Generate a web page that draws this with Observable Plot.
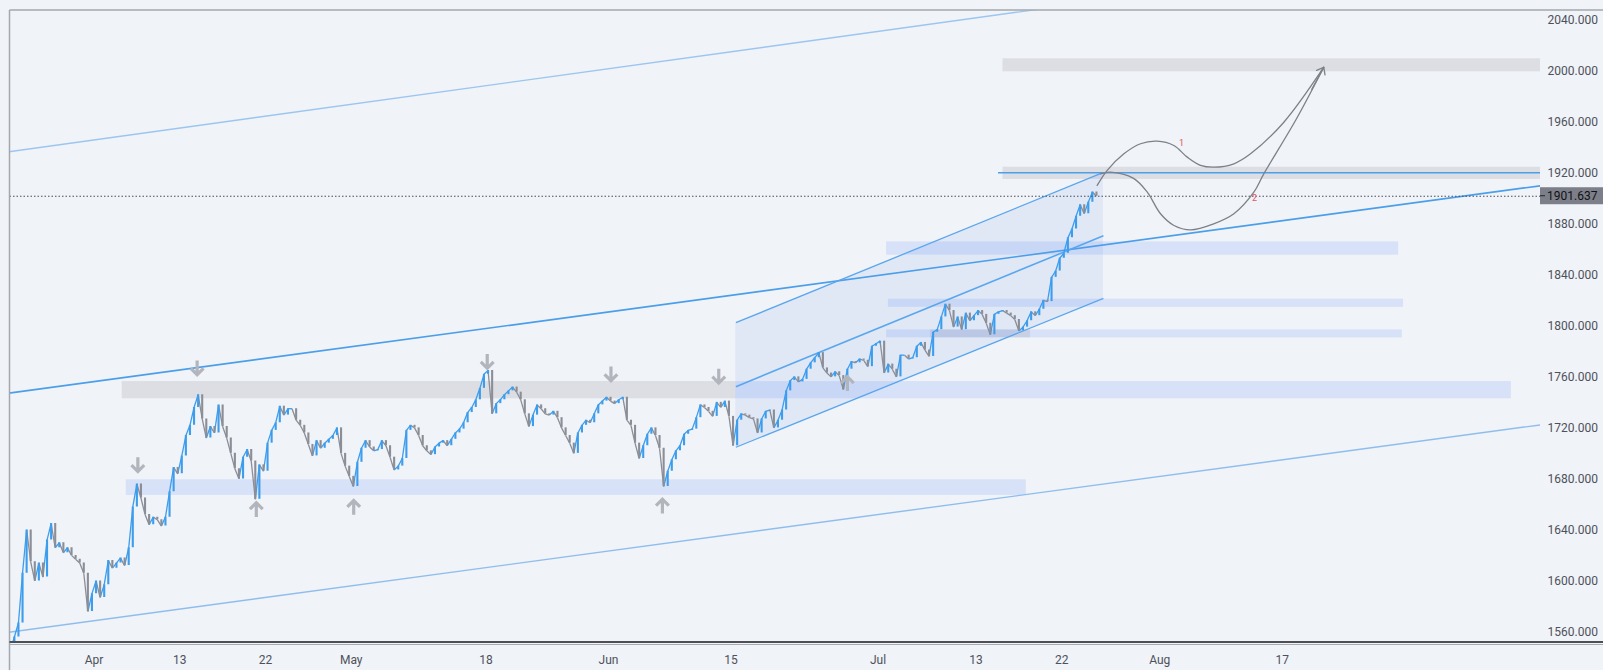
<!DOCTYPE html>
<html><head><meta charset="utf-8">
<script src="https://cdn.jsdelivr.net/npm/d3@7"></script>
<script src="https://cdn.jsdelivr.net/npm/@observablehq/plot@0.6"></script>
<style>
html,body{margin:0;padding:0;background:#f0f3f7;}
#chart{width:1603px;height:670px;overflow:hidden;position:relative;}
</style></head>
<body><div id="chart"></div>
<script>
// ---------------- DATA ----------------
const firstDay = "2020-03-23", lastDay = "2020-07-24";
const holidays = ["2020-04-10"];
const firstOpen = 1535;
// three session closes per trading day, Mar 23 .. Jul 24
const sessionCloses = [
 [1545,1556,1567],[1606,1640,1615],[1600,1614,1603],[1632,1645,1626],[1630,1622,1626],
 [1620,1617,1614],[1606,1576,1590],
 [1600,1587,1597],[1616,1610,1614],[1618,1612,1626],[1658,1676,1665],[1652,1644,1650],
 [1648,1643,1650],[1670,1689,1684],[1698,1714,1722],[1736,1746,1727],[1712,1721,1716],
 [1738,1721,1712],[1700,1688,1680],[1697,1703,1694],[1664,1691,1686],[1708,1718,1724],
 [1737,1730,1735],[1735,1726,1722],[1716,1707,1698],[1710,1704,1708],[1711,1714,1720],
 [1700,1690,1682],
 [1674,1693,1704],[1710,1705,1702],[1703,1710,1706],[1697,1687,1690],[1696,1718,1722],
 [1720,1714,1706],[1702,1699,1705],[1708,1710,1706],[1711,1716,1719],[1724,1732,1736],
 [1742,1751,1762],[1765,1731,1739],[1742,1746,1749],[1752,1748,1742],[1731,1721,1730],
 [1738,1735,1731],[1730,1733,1728],[1720,1714,1708],[1700,1716,1722],[1726,1724,1731],
 [1738,1741,1744],
 [1741,1739,1742],[1744,1726,1722],[1708,1696,1706],[1715,1720,1714],[1704,1674,1686],
 [1695,1702,1706],[1715,1718,1719],[1728,1738,1736],[1733,1729,1740],[1736,1741,1729],
 [1706,1726,1731],[1730,1728,1727],[1716,1727,1733],[1734,1720,1726],[1734,1749,1757],
 [1760,1756,1758],[1766,1771,1775],[1779,1767,1763],[1760,1764,1761],[1750,1766,1772],
 [1771,1774,1773],[1768,1784,1786],
 [1788,1763,1770],[1766,1760,1777],[1777,1774,1775],[1784,1787,1781],[1776,1795,1797],
 [1807,1817,1812],[1799,1807,1797],[1810,1804,1808],[1812,1809,1802],[1793,1809,1811],
 [1812,1810,1808],[1805,1796,1799],[1804,1811,1808],[1813,1820,1819],[1838,1843,1853],
 [1857,1869,1876],[1886,1895,1888],[1897,1905,1901.637]
];
const lastPrice = 1901.637;
const priceTicks = [1560,1600,1640,1680,1720,1760,1800,1840,1880,1920,1960,2000,2040];
const dateTicks  = ["2020-04-01","2020-04-13","2020-04-22","2020-05-01","2020-05-18","2020-06-01",
                    "2020-06-15","2020-07-01","2020-07-13","2020-07-22","2020-08-03","2020-08-17"];
const dateLabels = ["Apr","13","22","May","18","Jun","15","Jul","13","22","Aug","17"];

// drawings, x in bar-index units (trading days since Apr 1), y in price
const longChannel = [
 {line:"lower",  x1:-7,   y1:1559.7, x2:118.5, y2:1722.9},
 {line:"middle", x1:-7,   y1:1747.2, x2:118.5, y2:1910.4},
 {line:"upper",  x1:-7,   y1:1936.5, x2:118.5, y2:2103.3}
];
const shortChannel = [
 {line:"lower",  x1:52.4, y1:1704.8, x2:82.4, y2:1821.5},
 {line:"middle", x1:52.4, y1:1752.3, x2:82.4, y2:1870.6},
 {line:"upper",  x1:52.4, y1:1802.5, x2:82.4, y2:1920.3}
];
const zones = [
 {kind:"gray", x1:74.2,  x2:118.5, lo:1999.2, hi:2009.4},
 {kind:"gray", x1:74.2,  x2:118.5, lo:1914.8, hi:1924.4},
 {kind:"gray", x1:2.3,   x2:52.4,  lo:1742.8, hi:1756.3},
 {kind:"blue", x1:52.4,  x2:115.7, lo:1742.8, hi:1756.3},
 {kind:"blue", x1:2.64,  x2:76.1,  lo:1667.0, hi:1679.3},
 {kind:"blue", x1:64.7,  x2:106.5, lo:1855.4, hi:1865.8},
 {kind:"blue", x1:64.85, x2:106.9, lo:1814.5, hi:1820.9},
 {kind:"blue", x1:64.7,  x2:106.8, lo:1790.6, hi:1796.8},
 {kind:"gray", x1:68.3,  x2:76.45, lo:1790.6, hi:1796.8}
];
const levelLine = [{x1:73.8, x2:118.5, price:1920}];
const downArrows = [{x:3.58,p:1691},{x:8.42,p:1767},{x:32.1,p:1772},{x:42.2,p:1762.3},{x:51.0,p:1760.4}];
const upArrows   = [{x:13.25,p:1656},{x:21.2,p:1657.7},{x:46.4,p:1658.8},{x:61.5,p:1754.8}];
const path1 = [[81.89,1910.1],[82.71,1921.9],[84.07,1934.9],[85.43,1942.8],[86.79,1944.8],[88.15,1941.4],
 [89.24,1932.3],[90.33,1925.8],[91.41,1924.4],[93.05,1927.1],[94.41,1934.9],[97.13,1959.7],[100.39,2002.8]];
const path2 = [[82.16,1919.2],[82.98,1920.5],[84.86,1915.6],[85.98,1904.8],[87.06,1887.9],[88.16,1878.7],
 [89.51,1875.3],[91.4,1880.0],[93.05,1887.9],[94.68,1904.8],[95.49,1919.2],[98.08,1961.0],[100.39,2002.8]];
const pathHead = [{x1:99.41,y1:1985.5,x2:100.39,y2:2002.8}];
const pathLabels = [{x:88.78,p:1943.2,t:"1"},{x:94.73,p:1900.4,t:"2"}];

// ---------------- HELPERS ----------------
const ORIGIN = new Date(Date.UTC(2020,3,1));
const iso = d => d.toISOString().slice(0,10);
const isTrading = d => { const w = d.getUTCDay(); return w !== 0 && w !== 6 && !holidays.includes(iso(d)); };
function tradingIndex(s){
  const t = new Date(s + "T00:00:00Z"); let n = 0; const d = new Date(ORIGIN);
  if (t >= ORIGIN) { while (d < t) { if (isTrading(d)) n++; d.setUTCDate(d.getUTCDate()+1); } }
  else { while (d > t) { d.setUTCDate(d.getUTCDate()-1); if (isTrading(d)) n--; } }
  return n;
}
const tradingDays = [];
for (let d = new Date(firstDay+"T00:00:00Z"); iso(d) <= lastDay; d.setUTCDate(d.getUTCDate()+1))
  if (isTrading(d)) tradingDays.push(iso(d));

const bars = []; let prev = firstOpen, prevX = null;
tradingDays.forEach((day, di) => {
  const base = tradingIndex(day);
  (sessionCloses[di] || []).forEach((c, k) => {
    const x = base + (k + 0.5)/3;
    bars.push({x, px: prevX === null ? x - 1/3 : prevX, open: prev, close: c, up: c >= prev});
    prev = c; prevX = x;
  });
});
const tickIdx = dateTicks.map(tradingIndex);
const tickLabel = new Map(tickIdx.map((v,i)=>[v, dateLabels[i]]));
const box = [{x:shortChannel[0].x1, lo:shortChannel[0].y1, hi:shortChannel[2].y1},
             {x:shortChannel[0].x2, lo:shortChannel[0].y2, hi:shortChannel[2].y2}];
const toXY = a => a.map(([x,p]) => ({x, p}));

const W = 1603, H = 670, ML = 9.5, MR = 63, MT = 10, MB = 28;
const xDomain = [-6.857, 118.08];
const yDomain = [1551.69, 2047.29];
const zoneFill = {gray:"#8c8c96", blue:"#2962ff"};
const zoneOpacity = {gray:0.2, blue:0.12};
const longStroke = {lower:"#8fbdee", middle:"#4a9eea", upper:"#9cc5f0"};
const longWidth  = {lower:1.4, middle:1.7, upper:1.4};
const UP = "#3d9ded", DOWN = "#8b8e96";

const chart = Plot.plot({
  width: W, height: H,
  marginLeft: ML, marginRight: MR, marginTop: MT, marginBottom: MB,
  style: {background:"#f0f3f7", fontFamily:"Roboto, 'Liberation Sans', sans-serif", fontSize:"12px", overflow:"visible"},
  x: {type:"linear", domain: xDomain, axis: null},
  y: {domain: yDomain, axis: null},
  marks: [
    Plot.rect(zones, {x1:"x1", x2:"x2", y1:"lo", y2:"hi", fill: d => zoneFill[d.kind], fillOpacity: d => zoneOpacity[d.kind], clip:true}),
    Plot.areaY(box, {x:"x", y1:"lo", y2:"hi", fill:"#3d6ff0", fillOpacity:0.085}),
    Plot.link(longChannel, {x1:"x1", y1:"y1", x2:"x2", y2:"y2", stroke: d => longStroke[d.line], strokeWidth: d => longWidth[d.line], clip:true}),
    Plot.link(shortChannel, {x1:"x1", y1:"y1", x2:"x2", y2:"y2", stroke:"#5aa6ee", strokeWidth: d => d.line === "middle" ? 1.6 : 1.3}),
    Plot.link(levelLine, {x1:"x1", x2:"x2", y1:"price", y2:"price", stroke:"#4a9eea", strokeWidth:1.6, clip:true}),
    Plot.link(bars, {x1:"px", x2:"x", y1:"open", y2:"close", stroke: d => d.up ? UP : DOWN, strokeWidth:1.3, clip:true}),
    Plot.ruleX(bars, {x:"x", y1:"open", y2:"close", stroke: d => d.up ? UP : DOWN, strokeWidth:2.1, clip:true}),
    Plot.ruleY([lastPrice], {stroke:"#4a4d57", strokeWidth:1, strokeDasharray:"1.5,2"}),
    Plot.dot(downArrows, {x:"x", y:"p", r:7.5, fill:"none", stroke:"#b3b5bc", strokeWidth:3.2,
      symbol:{draw(ctx,size){const r=Math.sqrt(size/Math.PI); ctx.moveTo(0,-r); ctx.lineTo(0,r*0.85); ctx.moveTo(-0.85*r,0.05*r); ctx.lineTo(0,0.9*r); ctx.lineTo(0.85*r,0.05*r);}}}),
    Plot.dot(upArrows, {x:"x", y:"p", r:7.5, fill:"none", stroke:"#b3b5bc", strokeWidth:3.2,
      symbol:{draw(ctx,size){const r=Math.sqrt(size/Math.PI); ctx.moveTo(0,r); ctx.lineTo(0,-r*0.85); ctx.moveTo(-0.85*r,-0.05*r); ctx.lineTo(0,-0.9*r); ctx.lineTo(0.85*r,-0.05*r);}}}),
    Plot.line(toXY(path1), {x:"x", y:"p", curve:"catmull-rom", stroke:"#7d8089", strokeWidth:1.3}),
    Plot.line(toXY(path2), {x:"x", y:"p", curve:"catmull-rom", stroke:"#7d8089", strokeWidth:1.3}),
    Plot.arrow(pathHead, {x1:"x1", y1:"y1", x2:"x2", y2:"y2", stroke:"#7d8089", strokeWidth:1.3, headLength:9, headAngle:75}),
    Plot.text(pathLabels, {x:"x", y:"p", text:"t", fill:"#e0565f", fontSize:9}),
    Plot.axisY(priceTicks, {anchor:"right", tickSize:0, tickPadding:7, tickFormat: d => d.toFixed(3), fill:"#4e515b", fontSize:12, label:null}),
    Plot.axisX(tickIdx, {anchor:"bottom", tickSize:0, tickPadding:13, tickFormat: d => tickLabel.get(d), fill:"#4e515b", fontSize:12, label:null})
  ]
});
document.getElementById("chart").appendChild(chart);

// chart chrome: borders and last-price label, placed with the library's y scale
const svg = d3.select(chart);
const yS = chart.scale("y");
const yy = yS.apply(lastPrice);
svg.append("rect").attr("x", W-MR).attr("y", yy-8.5).attr("width", MR).attr("height", 17).attr("fill", "#7c7f89");
svg.append("line").attr("x1", W-MR).attr("x2", W-MR+5).attr("y1", yy).attr("y2", yy).attr("stroke", "#222").attr("stroke-width", 1);
svg.append("text").attr("x", W-MR+7).attr("y", yy).attr("dy","0.35em").attr("fill","#111").attr("text-anchor","start")
   .attr("font-size", 12).attr("font-family","Roboto, sans-serif").text(lastPrice.toFixed(3));
svg.append("line").attr("x1", ML).attr("x2", W).attr("y1", MT).attr("y2", MT).attr("stroke","#a4a8ae").attr("stroke-width",1.5);
svg.append("line").attr("x1", ML).attr("x2", ML).attr("y1", MT).attr("y2", H).attr("stroke","#a4a8ae").attr("stroke-width",1.5);
svg.append("line").attr("x1", ML).attr("x2", W).attr("y1", H-MB).attr("y2", H-MB).attr("stroke","#4d4f55").attr("stroke-width",2);
svg.append("line").attr("x1", ML).attr("x2", W).attr("y1", H-MB+2.5).attr("y2", H-MB+2.5).attr("stroke","#a9acb2").attr("stroke-width",1);
</script>
</body></html>
